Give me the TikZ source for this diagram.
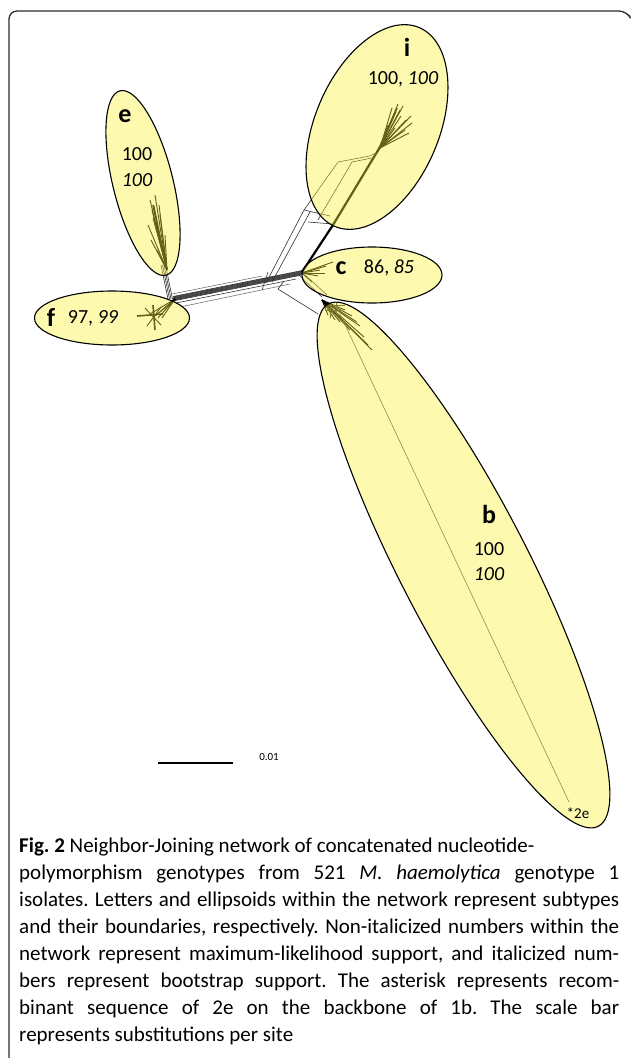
\documentclass[tikz,border=0pt]{standalone}
\usepackage{fontspec}
\setmainfont{Carlito}
\usepackage{xcolor}
\usetikzlibrary{shapes.geometric}

\definecolor{subfill}{RGB}{250,242,55}
\definecolor{framegray}{RGB}{45,45,45}

\tikzset{
  subtype/.style={ellipse, draw=black, line width=1.1pt, fill=subfill, fill opacity=0.4, draw opacity=1, inner sep=0pt},
  letter/.style={font=\fontsize{26}{26}\selectfont\bfseries, inner sep=0pt},
  support/.style={font=\fontsize{20}{20}\selectfont, inner sep=0pt},
  net/.style={black!80, line width=0.6pt},
  leaf/.style={black, line width=0.9pt},
  spine/.style={black, line width=1.6pt},
  caption/.style={text width=600pt, align=justify, inner sep=0pt, font=\fontsize{21}{27}\selectfont},
}

\begin{document}
\begin{tikzpicture}[x=1pt, y=-1pt]
  \useasboundingbox (0,0) rectangle (630,1058);

  % Frame
  \draw[framegray, line width=1.3pt, rounded corners=8pt] (9,1058) -- (9,11) -- (627,11) -- (629,15);

  % Backbone bundle between f and the centre
  \foreach \d in {-2.5,-2,-1.5,-1,-0.5,0,0.5,1,1.5,2} {
    \draw[net] (173,{299+\d}) -- (302,{273+\d});
  }
  \draw[net] (176,303) -- (296,279);
  \draw[net, black!55] (180,307) -- (290,284);
  \draw[net, black!55] (172,294) -- (262,276);
  \draw[net] (262,290) -- (268,272);

  % e branch
  \foreach \d in {-3,-1.5,0,1.5} {
    \draw[net] ({171+\d},299) -- ({164+\d},265);
  }

  % e fan
  \foreach \x/\y in {150/200, 152/210, 154/206, 156/222, 158/230, 160/215, 148/225, 151/240, 162/245, 157/250, 165/235, 155/195, 153/218, 159/205} {
    \draw[leaf] (167,270) -- (\x,\y);
  }
  \draw[spine] (167,270) -- (153,205);

  % f fan
  \draw[spine] (137,316) -- (163,314);
  \draw[spine] (153,305) -- (155,330);
  \draw[leaf] (145,308) -- (161,325);
  \draw[leaf] (147,326) -- (161,307);
  \foreach \x/\y in {155/316, 158/318, 150/314, 162/318, 160/312, 165/310} {
    \draw[leaf] (175,299) -- (\x,\y);
  }

  % c fan
  \foreach \x/\y in {333/262, 326/266, 320/270, 318/276, 312/282, 325/273} {
    \draw[leaf] (302,273) -- (\x,\y);
  }

  % i branch
  \draw[black, line width=2.2pt] (302,272) -- (333,225) -- (380,147);
  \draw[net] (266,283) -- (304,210) -- (338,162) -- (370,156) -- (378,152);
  \draw[net] (272,282) -- (310,212);
  \draw[net] (318,220) -- (352,162) -- (372,158);
  \draw[net] (304,210) -- (330,216);
  \draw[net] (308,222) -- (333,224);

  % i fan
  \foreach \x/\y in {392/108, 396/112, 398/104, 401/116, 406/120, 411/116, 405/130, 395/128, 388/125, 412/123, 400/110, 409/133, 403/106} {
    \draw[leaf] (380,148) -- (\x,\y);
  }
  \draw[spine] (377,153) -- (397,108);

  % b branch
  \draw[net] (300,276) -- (322,297);
  \draw[net] (305,275) -- (327,295);
  \draw[net] (284,281) -- (278,289) -- (318,314);

  % b fan
  \foreach \x/\y in {345/310, 352/316, 360/326, 368/345, 350/330, 340/322, 335/320, 328/315, 357/322, 364/337, 372/350} {
    \draw[leaf] (322,300) -- (\x,\y);
  }
  \draw[net] (325,305) -- (345,305);
  \draw[net] (325,310) -- (342,310);
  \draw[net] (330,303) -- (330,318);
  \draw[net] (336,303) -- (336,315);
  \draw[net, black!70] (340,314) -- (569,802);

  % Subtype ellipsoids
  \node[subtype, minimum width=216pt, minimum height=124pt, rotate=67] (subi) at (377,127) {};
  \node[subtype, minimum width=190pt, minimum height=60pt, rotate=104] (sube) at (143,183) {};
  \node[subtype, minimum width=155pt, minimum height=54pt] (subf) at (112,318) {};
  \node[subtype, minimum width=140pt, minimum height=56pt] (subc) at (372,275) {};
  \node[subtype, minimum width=588pt, minimum height=128pt, rotate=-62.7] (subb) at (463.5,565) {};

  % Subtype labels
  \node[letter] (lbli) at (407,47) {i};
  \node[support] (supi) at (403,79) {100, \textit{100}};
  \node[letter] (lble) at (125,116) {e};
  \node[support] (mle) at (137,154) {100};
  \node[support] (bse) at (137,180) {\textit{100}};
  \node[letter] (lblf) at (51,317) {f};
  \node[support] (supf) at (93,318) {97, \textit{99}};
  \node[letter] (lblc) at (341,268) {c};
  \node[support] (supc) at (389,268) {86, \textit{85}};
  \node[letter] (lblb) at (489,514) {b};
  \node[support] (mlb) at (489,549) {100};
  \node[support] (bsb) at (489,574) {\textit{100}};
  \node[font=\fontsize{15}{15}\selectfont, inner sep=0pt] (recomb) at (578,813) {*2e};

  % Scale bar
  \coordinate (barl) at (158,763);
  \coordinate (barr) at (233,763);
  \draw[line width=1.4pt] (barl) -- (barr);
  \node[font=\fontsize{11}{11}\selectfont, inner sep=0pt] (barlbl) at (269,757) {0.01};

  % Caption
  \node[caption, anchor=north west] (capt) at (19,838) {\frenchspacing\textbf{Fig. 2} Neighbor-Joining network of concatenated nucleotide-\\
    polymorphism genotypes from 521 \textit{M. haemolytica} genotype 1\linebreak
    isolates. Letters and ellipsoids within the network represent subtypes\linebreak
    and their boundaries, respectively. Non-italicized numbers within the\linebreak
    network represent maximum-likelihood support, and italicized num-\linebreak
    bers represent bootstrap support. The asterisk represents recom-\linebreak
    binant sequence of 2e on the backbone of 1b. The scale bar\linebreak
    represents substitutions per site};
\end{tikzpicture}
\end{document}
